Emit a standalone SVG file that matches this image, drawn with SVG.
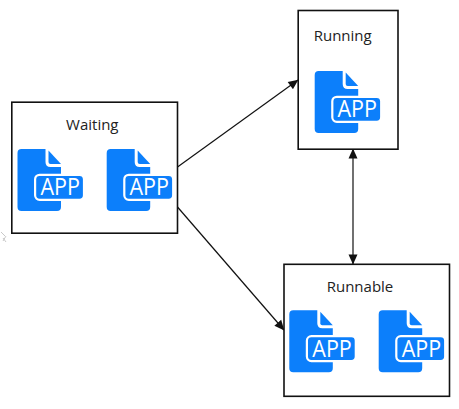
<svg xmlns="http://www.w3.org/2000/svg" width="459" height="409" viewBox="0 0 459 409">
<style>
.box{fill:#fff;stroke:#111;stroke-width:1.6}
.label{font-family:"Open Sans","Noto Sans",sans-serif;font-size:15px;fill:#222;text-anchor:middle}
.app{font-family:"Open Sans","Noto Sans",sans-serif;font-size:23px;fill:#fff}
.blue{fill:#0c7ffb}
.conn{fill:none;stroke:#111;stroke-width:1.2}
</style>
<defs>
<marker id="arrow" viewBox="0 0 10 10" refX="9.5" refY="5" markerWidth="11" markerHeight="10" markerUnits="userSpaceOnUse" orient="auto-start-reverse"><path d="M0,0.5 L10,5 L0,9.5 Z" fill="#111"/></marker>
<g id="icon">
<path class="blue" d="M4,0 H28 V13 Q28,18 33,18 H43.5 V58 Q43.5,62 39.5,62 H4 Q0,62 0,58 V4 Q0,0 4,0 Z"/>
<path class="blue" d="M31,1.5 L43.5,15 H33 Q31,15 31,13 Z"/>
<rect class="blue" x="17.6" y="25.8" width="48.9" height="25" rx="4.5" stroke="#fff" stroke-width="2.2"/>
</g>
</defs>
<rect width="459" height="409" fill="#fff"/>
<path d="M1,232 L5,236 M3,238 L6,242 M6,236 L3,241" fill="none" stroke="#bbb" stroke-width="0.8"/>
<g id="connectors">
<line class="conn" x1="177.5" y1="167" x2="298" y2="80" marker-end="url(#arrow)"/>
<line class="conn" x1="177.5" y1="207" x2="284" y2="330" marker-end="url(#arrow)"/>
<line class="conn" x1="353" y1="149" x2="353" y2="264" marker-start="url(#arrow)" marker-end="url(#arrow)"/>
</g>
<g id="waiting">
<rect class="box" x="11.8" y="102.2" width="165.7" height="131"/>
<text class="label" x="92.3" y="130">Waiting</text>
<use href="#icon" x="17.5" y="149"/><text class="app" x="40.5" y="195.3" textLength="39.5" lengthAdjust="spacingAndGlyphs">APP</text>
<use href="#icon" x="106.7" y="149"/><text class="app" x="129.5" y="195.3" textLength="39.5" lengthAdjust="spacingAndGlyphs">APP</text>
</g>
<g id="running">
<rect class="box" x="298.2" y="10.5" width="99.8" height="138.7"/>
<text class="label" x="342.7" y="40.7">Running</text>
<use href="#icon" x="314.7" y="71"/><text class="app" x="337.5" y="117.3" textLength="39.5" lengthAdjust="spacingAndGlyphs">APP</text>
</g>
<g id="runnable">
<rect class="box" x="284" y="264.3" width="165.5" height="132"/>
<text class="label" x="360" y="291.7">Runnable</text>
<use href="#icon" x="289.3" y="310.3"/><text class="app" x="312.3" y="356.6" textLength="39.5" lengthAdjust="spacingAndGlyphs">APP</text>
<use href="#icon" x="378.7" y="310.3"/><text class="app" x="401.7" y="356.6" textLength="39.5" lengthAdjust="spacingAndGlyphs">APP</text>
</g>
</svg>
